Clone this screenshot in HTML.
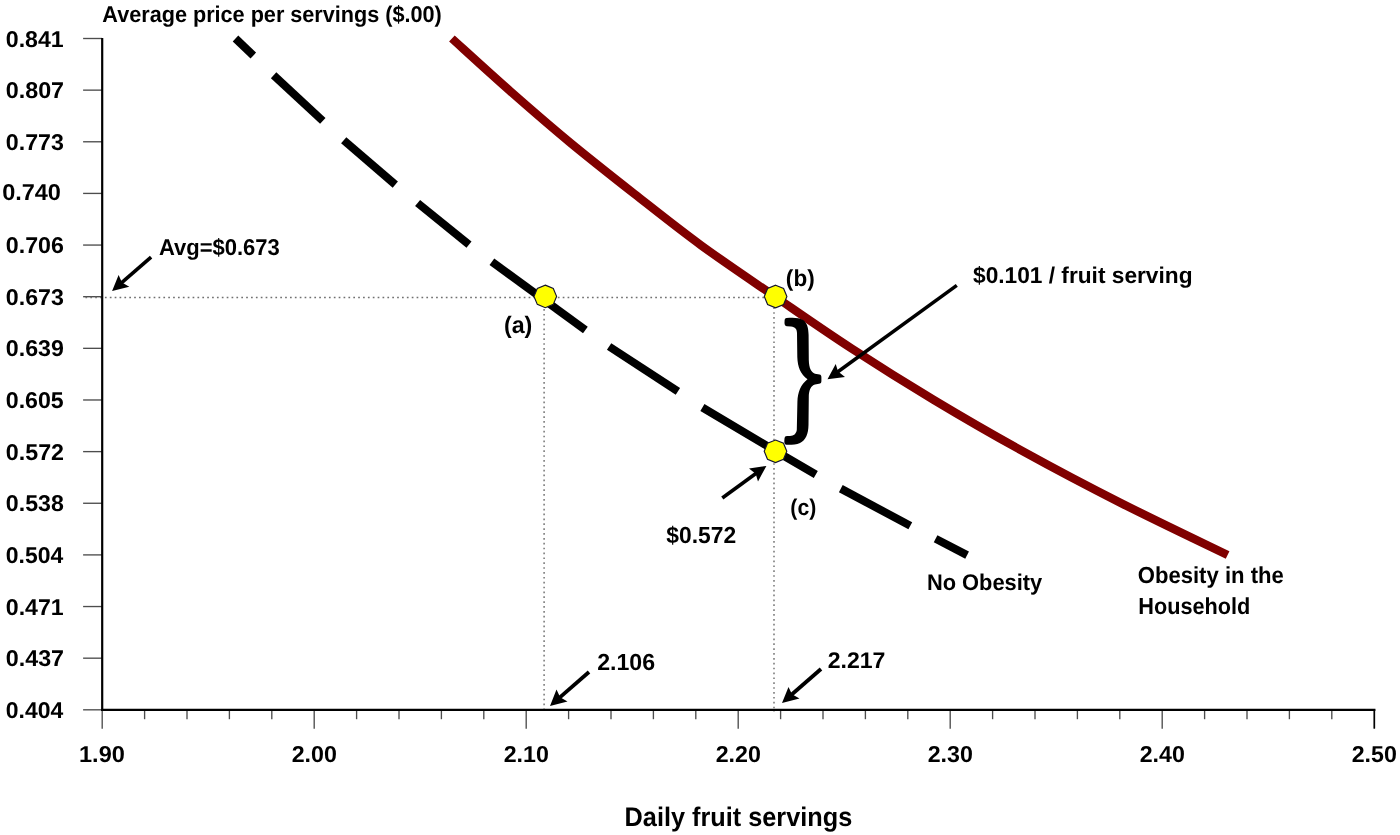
<!DOCTYPE html>
<html><head><meta charset="utf-8"><style>html,body{margin:0;padding:0;background:#fff;}svg{display:block;will-change:transform;}</style></head>
<body><svg width="1400" height="835" viewBox="0 0 1400 835"><line x1="83.1" y1="38.50" x2="102" y2="38.50" stroke="#4d4d4d" stroke-width="1.35"/><line x1="83.1" y1="90.14" x2="102" y2="90.14" stroke="#4d4d4d" stroke-width="1.35"/><line x1="83.1" y1="141.78" x2="102" y2="141.78" stroke="#4d4d4d" stroke-width="1.35"/><line x1="83.1" y1="193.42" x2="102" y2="193.42" stroke="#4d4d4d" stroke-width="1.35"/><line x1="83.1" y1="245.06" x2="102" y2="245.06" stroke="#4d4d4d" stroke-width="1.35"/><line x1="83.1" y1="296.70" x2="102" y2="296.70" stroke="#4d4d4d" stroke-width="1.35"/><line x1="83.1" y1="348.34" x2="102" y2="348.34" stroke="#4d4d4d" stroke-width="1.35"/><line x1="83.1" y1="399.98" x2="102" y2="399.98" stroke="#4d4d4d" stroke-width="1.35"/><line x1="83.1" y1="451.62" x2="102" y2="451.62" stroke="#4d4d4d" stroke-width="1.35"/><line x1="83.1" y1="503.26" x2="102" y2="503.26" stroke="#4d4d4d" stroke-width="1.35"/><line x1="83.1" y1="554.90" x2="102" y2="554.90" stroke="#4d4d4d" stroke-width="1.35"/><line x1="83.1" y1="606.54" x2="102" y2="606.54" stroke="#4d4d4d" stroke-width="1.35"/><line x1="83.1" y1="658.18" x2="102" y2="658.18" stroke="#4d4d4d" stroke-width="1.35"/><line x1="83.1" y1="709.82" x2="102" y2="709.82" stroke="#4d4d4d" stroke-width="1.35"/><line x1="102.20" y1="709" x2="102.20" y2="728.8" stroke="#4d4d4d" stroke-width="1.35"/><line x1="144.60" y1="709" x2="144.60" y2="719.2" stroke="#4d4d4d" stroke-width="1.35"/><line x1="187.00" y1="709" x2="187.00" y2="719.2" stroke="#4d4d4d" stroke-width="1.35"/><line x1="229.40" y1="709" x2="229.40" y2="719.2" stroke="#4d4d4d" stroke-width="1.35"/><line x1="271.80" y1="709" x2="271.80" y2="719.2" stroke="#4d4d4d" stroke-width="1.35"/><line x1="314.20" y1="709" x2="314.20" y2="728.8" stroke="#4d4d4d" stroke-width="1.35"/><line x1="356.60" y1="709" x2="356.60" y2="719.2" stroke="#4d4d4d" stroke-width="1.35"/><line x1="399.00" y1="709" x2="399.00" y2="719.2" stroke="#4d4d4d" stroke-width="1.35"/><line x1="441.40" y1="709" x2="441.40" y2="719.2" stroke="#4d4d4d" stroke-width="1.35"/><line x1="483.80" y1="709" x2="483.80" y2="719.2" stroke="#4d4d4d" stroke-width="1.35"/><line x1="526.20" y1="709" x2="526.20" y2="728.8" stroke="#4d4d4d" stroke-width="1.35"/><line x1="568.60" y1="709" x2="568.60" y2="719.2" stroke="#4d4d4d" stroke-width="1.35"/><line x1="611.00" y1="709" x2="611.00" y2="719.2" stroke="#4d4d4d" stroke-width="1.35"/><line x1="653.40" y1="709" x2="653.40" y2="719.2" stroke="#4d4d4d" stroke-width="1.35"/><line x1="695.80" y1="709" x2="695.80" y2="719.2" stroke="#4d4d4d" stroke-width="1.35"/><line x1="738.20" y1="709" x2="738.20" y2="728.8" stroke="#4d4d4d" stroke-width="1.35"/><line x1="780.60" y1="709" x2="780.60" y2="719.2" stroke="#4d4d4d" stroke-width="1.35"/><line x1="823.00" y1="709" x2="823.00" y2="719.2" stroke="#4d4d4d" stroke-width="1.35"/><line x1="865.40" y1="709" x2="865.40" y2="719.2" stroke="#4d4d4d" stroke-width="1.35"/><line x1="907.80" y1="709" x2="907.80" y2="719.2" stroke="#4d4d4d" stroke-width="1.35"/><line x1="950.20" y1="709" x2="950.20" y2="728.8" stroke="#4d4d4d" stroke-width="1.35"/><line x1="992.60" y1="709" x2="992.60" y2="719.2" stroke="#4d4d4d" stroke-width="1.35"/><line x1="1035.00" y1="709" x2="1035.00" y2="719.2" stroke="#4d4d4d" stroke-width="1.35"/><line x1="1077.40" y1="709" x2="1077.40" y2="719.2" stroke="#4d4d4d" stroke-width="1.35"/><line x1="1119.80" y1="709" x2="1119.80" y2="719.2" stroke="#4d4d4d" stroke-width="1.35"/><line x1="1162.20" y1="709" x2="1162.20" y2="728.8" stroke="#4d4d4d" stroke-width="1.35"/><line x1="1204.60" y1="709" x2="1204.60" y2="719.2" stroke="#4d4d4d" stroke-width="1.35"/><line x1="1247.00" y1="709" x2="1247.00" y2="719.2" stroke="#4d4d4d" stroke-width="1.35"/><line x1="1289.40" y1="709" x2="1289.40" y2="719.2" stroke="#4d4d4d" stroke-width="1.35"/><line x1="1331.80" y1="709" x2="1331.80" y2="719.2" stroke="#4d4d4d" stroke-width="1.35"/><line x1="1374.20" y1="709" x2="1374.20" y2="728.8" stroke="#4d4d4d" stroke-width="1.35"/><line x1="85.45" y1="297.5" x2="775" y2="297.5" stroke="#707070" stroke-width="1.45" stroke-dasharray="1.7 3.17"/><line x1="544.1" y1="299.3" x2="544.1" y2="713" stroke="#707070" stroke-width="1.45" stroke-dasharray="1.7 3.17"/><line x1="774.0" y1="297.55" x2="774.0" y2="712" stroke="#707070" stroke-width="1.45" stroke-dasharray="1.7 3.17"/><line x1="102.2" y1="37.9" x2="102.2" y2="710.9" stroke="#000" stroke-width="2.2"/><line x1="101.1" y1="709.85" x2="1375.4" y2="709.85" stroke="#000" stroke-width="2.1"/><line x1="1374.4" y1="709" x2="1374.4" y2="728.5" stroke="#000" stroke-width="1.5"/><path d="M451.9,38.5 C461.52,47.18 489.97,73.32 509.6,90.6 C529.23,107.88 548.93,125.02 569.7,142.2 C590.47,159.38 612.30,176.52 634.2,193.7 C656.10,210.88 677.55,228.10 701.1,245.3 C724.65,262.50 750.42,279.70 775.5,296.9 C800.58,314.10 825.17,331.30 851.6,348.5 C878.03,365.70 905.45,382.92 934.1,400.1 C962.75,417.28 992.30,434.42 1023.5,451.6 C1054.70,468.78 1087.28,485.97 1121.3,503.2 C1155.32,520.43 1209.88,546.37 1227.6,555" fill="none" stroke="#800000" stroke-width="8.4"/><polyline points="235.5,38.5 253.3,55.5" fill="none" stroke="#000" stroke-width="8"/><polyline points="273.6,75.3 322.8,120.9" fill="none" stroke="#000" stroke-width="8"/><polyline points="343.7,140.2 395.3,184.6" fill="none" stroke="#000" stroke-width="8"/><polyline points="417.6,203 469,244.6" fill="none" stroke="#000" stroke-width="8"/><polyline points="491.9,261.7 585.4,330.1" fill="none" stroke="#000" stroke-width="8"/><polyline points="609.1,346.5 677.9,391.4" fill="none" stroke="#000" stroke-width="8"/><polyline points="702.4,407.5 775.5,451.0 815.8,474.5" fill="none" stroke="#000" stroke-width="8"/><polyline points="840.8,488.6 910.3,525.8" fill="none" stroke="#000" stroke-width="8"/><polyline points="935.6,538.8 967.1,555.1" fill="none" stroke="#000" stroke-width="8"/><polygon points="545.30,285.10 553.29,288.41 556.60,296.40 553.29,304.39 545.30,307.70 537.31,304.39 534.00,296.40 537.31,288.41" fill="#ffff00" stroke="#14142e" stroke-width="1.15"/><polygon points="775.60,285.20 783.59,288.51 786.90,296.50 783.59,304.49 775.60,307.80 767.61,304.49 764.30,296.50 767.61,288.51" fill="#ffff00" stroke="#14142e" stroke-width="1.15"/><polygon points="775.50,440.00 783.49,443.31 786.80,451.30 783.49,459.29 775.50,462.60 767.51,459.29 764.20,451.30 767.51,443.31" fill="#ffff00" stroke="#14142e" stroke-width="1.15"/><line x1="151.1" y1="257.1" x2="120.86" y2="283.39" stroke="#000" stroke-width="3.6"/><polygon points="112.1,291 118.6,275 121.99,282.40 129.3,286.7" fill="#000"/><line x1="956.8" y1="285.4" x2="836.88" y2="372.48" stroke="#000" stroke-width="3.5"/><polygon points="827.5,379.3 835.7,364 838.10,371.60 845,376.9" fill="#000"/><line x1="722.3" y1="498" x2="756.90" y2="472.82" stroke="#000" stroke-width="3.6"/><polygon points="766.4,465.9 749,468.5 755.68,473.70 758,481.4" fill="#000"/><line x1="589" y1="672" x2="559.00" y2="698.15" stroke="#000" stroke-width="3.8"/><polygon points="550,706 556.5,689.5 560.13,697.16 567.5,701.5" fill="#000"/><line x1="821" y1="669" x2="790.88" y2="695.26" stroke="#000" stroke-width="3.8"/><polygon points="782,703 788.5,687 792.01,694.27 799.5,698.5" fill="#000"/><path d="M786.5,318 C793,317.3 799,317.5 803,320 C807,322.5 808.5,328 808.6,335 L808.8,360 C809,368 811,372 815,373.8 L819.5,374.6 C821,374.9 821.4,376 821.4,377.5 L821.4,381 C821.4,382.8 820.6,383.6 819,383.8 L815,384.4 C811,385.6 809,390 808.8,396 L808.5,425 C808.3,434 806,440 800,443 C796,444.8 791,444.9 786.5,444.8 C784.8,444.7 784.2,443 784.3,441 L784.5,438.5 C784.7,436.8 785.5,436 787,436 L790,435.9 C794,435.8 796,434 796.8,430 L797.4,402 C797.8,392 800.5,385 807.5,379.3 C800.5,374 797.6,367 797.3,357 L797,333 C796.8,329 795.3,327 791,326.5 L787,326.3 C785.3,326.2 784.5,325 784.5,323 L784.6,320.5 C784.7,318.8 785.3,318.1 786.5,318 Z" fill="#000"/><text x="102.36" y="22.0" font-size="22.8" textLength="339.44" lengthAdjust="spacingAndGlyphs" font-family="Liberation Sans, sans-serif" font-weight="bold" text-rendering="geometricPrecision">Average price per servings ($.00)</text><text x="624.59" y="825.7" font-size="26.76" textLength="227.64" lengthAdjust="spacingAndGlyphs" font-family="Liberation Sans, sans-serif" font-weight="bold" text-rendering="geometricPrecision">Daily fruit servings</text><text x="158.95" y="254.5" font-size="22.84" textLength="120.87" lengthAdjust="spacingAndGlyphs" font-family="Liberation Sans, sans-serif" font-weight="bold" text-rendering="geometricPrecision">Avg=$0.673</text><text x="973.02" y="282.6" font-size="22.94" textLength="219.49" lengthAdjust="spacingAndGlyphs" font-family="Liberation Sans, sans-serif" font-weight="bold" text-rendering="geometricPrecision">$0.101 / fruit serving</text><text x="666.31" y="542.6" font-size="23.23" textLength="69.93" lengthAdjust="spacingAndGlyphs" font-family="Liberation Sans, sans-serif" font-weight="bold" text-rendering="geometricPrecision">$0.572</text><text x="503.94" y="333.06" font-size="23.81" textLength="28.42" lengthAdjust="spacingAndGlyphs" font-family="Liberation Sans, sans-serif" font-weight="bold" text-rendering="geometricPrecision">(a)</text><text x="785.87" y="285.72" font-size="23.06" textLength="28.84" lengthAdjust="spacingAndGlyphs" font-family="Liberation Sans, sans-serif" font-weight="bold" text-rendering="geometricPrecision">(b)</text><text x="790.34" y="515.26" font-size="22.84" textLength="25.91" lengthAdjust="spacingAndGlyphs" font-family="Liberation Sans, sans-serif" font-weight="bold" text-rendering="geometricPrecision">(c)</text><text x="926.93" y="589.9" font-size="22.69" textLength="115.32" lengthAdjust="spacingAndGlyphs" font-family="Liberation Sans, sans-serif" font-weight="bold" text-rendering="geometricPrecision">No Obesity</text><text x="1137.72" y="583.4" font-size="23.23" textLength="146.1" lengthAdjust="spacingAndGlyphs" font-family="Liberation Sans, sans-serif" font-weight="bold" text-rendering="geometricPrecision">Obesity in the</text><text x="1138.24" y="613.7" font-size="23.27" textLength="112.11" lengthAdjust="spacingAndGlyphs" font-family="Liberation Sans, sans-serif" font-weight="bold" text-rendering="geometricPrecision">Household</text><text x="597.19" y="669.6" font-size="23.23" textLength="57.92" lengthAdjust="spacingAndGlyphs" font-family="Liberation Sans, sans-serif" font-weight="bold" text-rendering="geometricPrecision">2.106</text><text x="827.69" y="668.3" font-size="22.65" textLength="57.79" lengthAdjust="spacingAndGlyphs" font-family="Liberation Sans, sans-serif" font-weight="bold" text-rendering="geometricPrecision">2.217</text><text x="5.82" y="46.6" font-size="22.8" textLength="57.91" lengthAdjust="spacingAndGlyphs" font-family="Liberation Sans, sans-serif" font-weight="bold" text-rendering="geometricPrecision">0.841</text><text x="5.82" y="98.24" font-size="22.8" textLength="58.27" lengthAdjust="spacingAndGlyphs" font-family="Liberation Sans, sans-serif" font-weight="bold" text-rendering="geometricPrecision">0.807</text><text x="5.82" y="149.88" font-size="22.8" textLength="58.09" lengthAdjust="spacingAndGlyphs" font-family="Liberation Sans, sans-serif" font-weight="bold" text-rendering="geometricPrecision">0.773</text><text x="2.16" y="200.2" font-size="22.94" textLength="58.78" lengthAdjust="spacingAndGlyphs" font-family="Liberation Sans, sans-serif" font-weight="bold" text-rendering="geometricPrecision">0.740</text><text x="5.82" y="253.16" font-size="22.8" textLength="58.09" lengthAdjust="spacingAndGlyphs" font-family="Liberation Sans, sans-serif" font-weight="bold" text-rendering="geometricPrecision">0.706</text><text x="5.82" y="304.8" font-size="22.8" textLength="58.09" lengthAdjust="spacingAndGlyphs" font-family="Liberation Sans, sans-serif" font-weight="bold" text-rendering="geometricPrecision">0.673</text><text x="5.82" y="356.44" font-size="22.8" textLength="58.09" lengthAdjust="spacingAndGlyphs" font-family="Liberation Sans, sans-serif" font-weight="bold" text-rendering="geometricPrecision">0.639</text><text x="5.82" y="408.08" font-size="22.8" textLength="57.91" lengthAdjust="spacingAndGlyphs" font-family="Liberation Sans, sans-serif" font-weight="bold" text-rendering="geometricPrecision">0.605</text><text x="5.82" y="459.72" font-size="22.8" textLength="58.21" lengthAdjust="spacingAndGlyphs" font-family="Liberation Sans, sans-serif" font-weight="bold" text-rendering="geometricPrecision">0.572</text><text x="5.82" y="511.36" font-size="22.8" textLength="57.97" lengthAdjust="spacingAndGlyphs" font-family="Liberation Sans, sans-serif" font-weight="bold" text-rendering="geometricPrecision">0.538</text><text x="5.83" y="563.0" font-size="22.8" textLength="57.38" lengthAdjust="spacingAndGlyphs" font-family="Liberation Sans, sans-serif" font-weight="bold" text-rendering="geometricPrecision">0.504</text><text x="5.82" y="614.64" font-size="22.8" textLength="57.91" lengthAdjust="spacingAndGlyphs" font-family="Liberation Sans, sans-serif" font-weight="bold" text-rendering="geometricPrecision">0.471</text><text x="5.82" y="666.28" font-size="22.8" textLength="58.27" lengthAdjust="spacingAndGlyphs" font-family="Liberation Sans, sans-serif" font-weight="bold" text-rendering="geometricPrecision">0.437</text><text x="5.83" y="717.92" font-size="22.8" textLength="57.38" lengthAdjust="spacingAndGlyphs" font-family="Liberation Sans, sans-serif" font-weight="bold" text-rendering="geometricPrecision">0.404</text><text x="79.03" y="762.4" font-size="23.08" textLength="45.85" lengthAdjust="spacingAndGlyphs" font-family="Liberation Sans, sans-serif" font-weight="bold" text-rendering="geometricPrecision">1.90</text><text x="291.69" y="762.4" font-size="23.08" textLength="45.17" lengthAdjust="spacingAndGlyphs" font-family="Liberation Sans, sans-serif" font-weight="bold" text-rendering="geometricPrecision">2.00</text><text x="503.69" y="762.4" font-size="23.08" textLength="45.17" lengthAdjust="spacingAndGlyphs" font-family="Liberation Sans, sans-serif" font-weight="bold" text-rendering="geometricPrecision">2.10</text><text x="715.69" y="762.4" font-size="23.08" textLength="45.17" lengthAdjust="spacingAndGlyphs" font-family="Liberation Sans, sans-serif" font-weight="bold" text-rendering="geometricPrecision">2.20</text><text x="927.69" y="762.4" font-size="23.08" textLength="45.17" lengthAdjust="spacingAndGlyphs" font-family="Liberation Sans, sans-serif" font-weight="bold" text-rendering="geometricPrecision">2.30</text><text x="1139.69" y="762.4" font-size="23.08" textLength="45.17" lengthAdjust="spacingAndGlyphs" font-family="Liberation Sans, sans-serif" font-weight="bold" text-rendering="geometricPrecision">2.40</text><text x="1351.69" y="762.4" font-size="23.08" textLength="45.17" lengthAdjust="spacingAndGlyphs" font-family="Liberation Sans, sans-serif" font-weight="bold" text-rendering="geometricPrecision">2.50</text></svg></body></html>
